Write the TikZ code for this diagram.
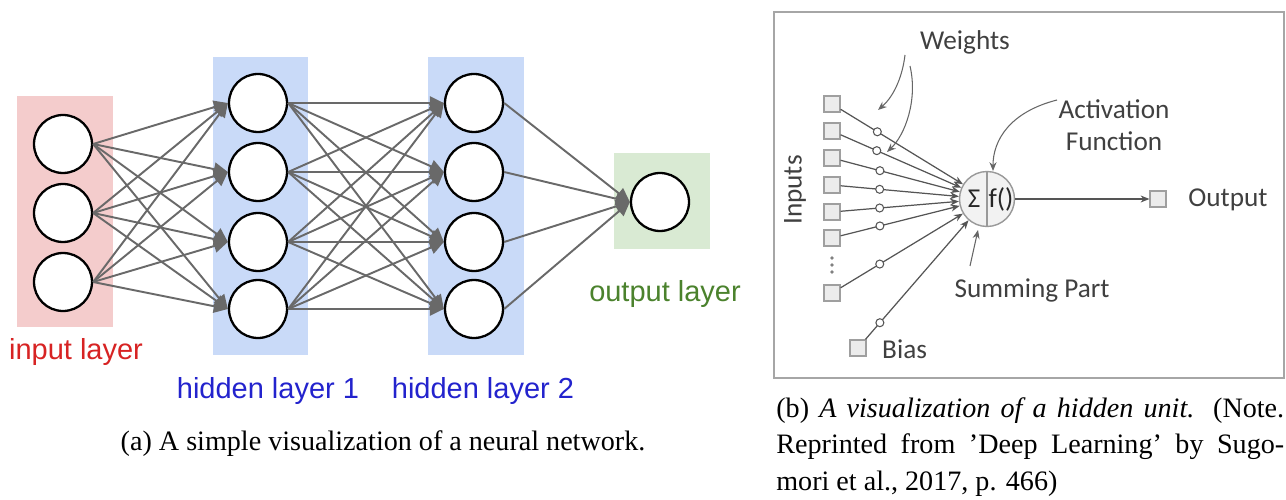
\documentclass[tikz,border=0pt]{standalone}
\usepackage{fontspec}
\setmainfont{Liberation Serif}
\newfontfamily\netfont{Liberation Sans}
\newfontfamily\unitfont{Carlito}
\usetikzlibrary{arrows.meta,positioning,calc}
\definecolor{inputcolor}{RGB}{244,204,204}
\definecolor{hiddencolor}{RGB}{201,218,248}
\definecolor{outputcolor}{RGB}{217,234,211}
\definecolor{inputtext}{RGB}{215,35,35}
\definecolor{hiddentext}{RGB}{35,35,205}
\definecolor{outputtext}{RGB}{75,130,45}
\definecolor{edgecolor}{RGB}{105,105,105}
\definecolor{unitcolor}{RGB}{85,85,85}

\begin{document}
\begin{tikzpicture}[
        x=0.02cm, y=-0.02cm,
        neuron/.style={circle, draw, line width=1.3pt, fill=white, minimum size=1.16cm, inner sep=0pt},
        edge/.style={-{Triangle[length=8pt,width=7.5pt]}, edgecolor, line width=1.1pt},
        netlabel/.style={font=\netfont\fontsize{16.5}{19}\selectfont},
        caption/.style={font=\fontsize{16}{20.8}\selectfont},
        insquare/.style={rectangle, draw=gray!75, fill=gray!15, minimum size=0.32cm, inner sep=0pt, line width=0.7pt},
        weight/.style={circle, draw=unitcolor, fill=white, minimum size=0.16cm, inner sep=0pt, line width=0.6pt},
        wire/.style={-{Stealth[length=5pt,width=4pt]}, unitcolor, line width=0.7pt},
        pointer/.style={-{Stealth[length=5pt,width=4pt]}, gray!80!black, line width=0.6pt},
        unitlabel/.style={font=\unitfont\fontsize{15.5}{18}\selectfont, text=black!75}
    ]
        \useasboundingbox (0,0) rectangle (1286,500);

        % Layer backgrounds
        \fill[inputcolor] (17,96) rectangle (113,327);
        \fill[hiddencolor] (213,57) rectangle (308,355);
        \fill[hiddencolor] (428,57) rectangle (524,355);
        \fill[outputcolor] (614,153) rectangle (710,249);

        % Input layer
        \node[neuron] (i1) at (63,144) {};
        \node[neuron] (i2) at (63,213) {};
        \node[neuron] (i3) at (63,282) {};

        % Hidden layer 1
        \node[neuron] (a1) at (258,103) {};
        \node[neuron] (a2) at (258,172) {};
        \node[neuron] (a3) at (258,242) {};
        \node[neuron] (a4) at (258,309) {};

        % Hidden layer 2
        \node[neuron] (b1) at (474,103) {};
        \node[neuron] (b2) at (474,172) {};
        \node[neuron] (b3) at (474,242) {};
        \node[neuron] (b4) at (474,309) {};

        % Output layer
        \node[neuron] (o1) at (660,202) {};

        % Connections
        \foreach \i in {1,2,3} \foreach \j in {1,...,4} \draw[edge] (i\i.east) -- (a\j.west);
        \foreach \i in {1,...,4} \foreach \j in {1,...,4} \draw[edge] (a\i.east) -- (b\j.west);
        \foreach \i in {1,...,4} \draw[edge] (b\i.east) -- (o1.west);

        % Layer labels
        \node[netlabel, text=inputtext] (inlabel) at (76,352) {input layer};
        \node[netlabel, text=hiddentext] (h1label) at (268,391) {hidden layer 1};
        \node[netlabel, text=hiddentext] (h2label) at (483,391) {hidden layer 2};
        \node[netlabel, text=outputtext] (outlabel) at (665,294) {output layer};

        \node[caption] (capa) at (383,444) {(a) A simple visualization of a neural network.};

        % Hidden unit panel
        \draw[gray!70, line width=0.8pt] (774,12) rectangle (1284,378);

        \node[circle, draw=gray!80, fill=gray!10, minimum size=1.1cm, inner sep=0pt, line width=0.8pt] (sum) at (987,199) {};
        \draw[gray!80, line width=0.8pt] (sum.north) -- (sum.south);
        \node[unitlabel, text=black!85] (sigma) at (974,199) {Σ};
        \node[unitlabel, text=black!85] (func) at (1001,199) {f()};

        \node[insquare] (in1) at (832,104) {};
        \node[insquare] (in2) at (832,131) {};
        \node[insquare] (in3) at (832,158) {};
        \node[insquare] (in4) at (832,185) {};
        \node[insquare] (in5) at (832,212) {};
        \node[insquare] (in6) at (832,238) {};
        \node[insquare] (in7) at (832,293) {};
        \foreach \y in {258,265,272} \fill[gray] (832,\y) circle (1.1pt);
        \node[insquare] (bias) at (858,348) {};
        \node[insquare] (out) at (1158,199) {};

        \draw[wire] (in1) -- node[weight, pos=0.3] (w1) {} (sum);
        \draw[wire] (in2) -- node[weight, pos=0.3] (w2) {} (sum);
        \draw[wire] (in3) -- node[weight, pos=0.33] (w3) {} (sum);
        \draw[wire] (in4) -- node[weight, pos=0.33] (w4) {} (sum);
        \draw[wire] (in5) -- node[weight, pos=0.33] (w5) {} (sum);
        \draw[wire] (in6) -- node[weight, pos=0.33] (w6) {} (sum);
        \draw[wire] (in7) -- node[weight, pos=0.32] (w7) {} (sum);
        \draw[wire] (bias) -- node[weight, pos=0.14] (w8) {} (sum);
        \draw[wire] (sum) -- (out);

        % Annotations
        \node[unitlabel] (weights) at (965,42) {Weights};
        \node[unitlabel, align=center] (activation) at (1114,125) {Activation\\Function};
        \node[unitlabel] (summing) at (1032,290) {Summing Part};
        \node[unitlabel] (output) at (1228,200) {Output};
        \node[unitlabel, anchor=west] (biaslabel) at (876,349) {Bias};
        \node[unitlabel, rotate=90] (inputs) at (795,190) {Inputs};

        \draw[pointer] (905,55) .. controls (902,80) and (892,98) .. (878,110);
        \draw[pointer] (910,66) .. controls (918,100) and (905,135) .. (887,152);
        \draw[pointer] (1057,100) .. controls (1010,112) and (993,140) .. (993,171);
        \draw[pointer] (970,266) -- (978,230);

        \node[caption, text width=10.16cm, align=justify, anchor=north west, inner sep=0pt] (capb) at (776,397)
            {(b) \textit{A visualization of a hidden unit.} (Note.\linebreak Reprinted from 'Deep Learning' by Sugo-\linebreak mori et al., 2017, p. 466)};

    \end{tikzpicture}
\end{document}
